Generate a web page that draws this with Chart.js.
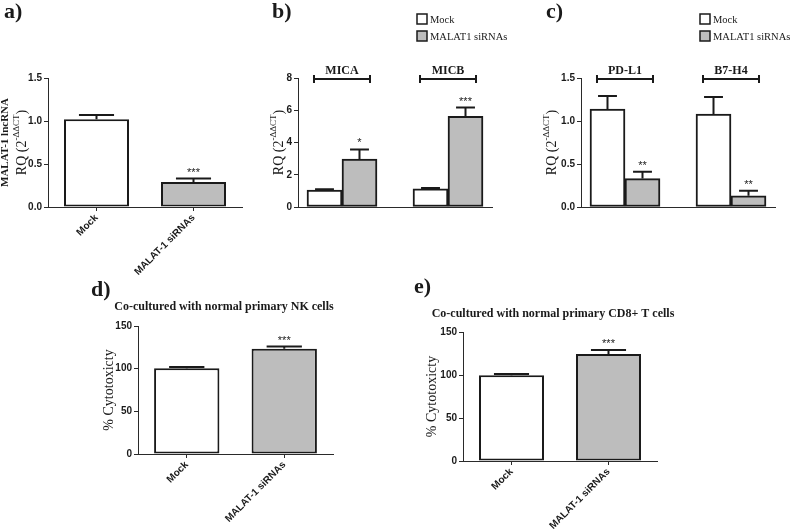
<!DOCTYPE html>
<html>
<head>
<meta charset="utf-8">
<script src="https://cdn.jsdelivr.net/npm/chart.js@4.4.0/dist/chart.umd.min.js"></script>
<style>
html, body { margin: 0; padding: 0; background: #fff; }
#wrap { position: relative; width: 791px; height: 531px; }
#wrap canvas { position: absolute; left: 0; top: 0; }
</style>
</head>
<body>
<div id="wrap">
  <canvas id="pa" width="791" height="531"></canvas>
  <canvas id="pb" width="791" height="531"></canvas>
  <canvas id="pc" width="791" height="531"></canvas>
  <canvas id="pd" width="791" height="531"></canvas>
  <canvas id="pe" width="791" height="531"></canvas>
</div>
<script>
// a) MALAT-1 knockdown
var aLabels = ['Mock', 'MALAT-1 siRNAs'];
var aValues = [1.02, 0.29];
var aErrors = [0.05, 0.04];
var aStars = ['', '***'];
var aTicks = [0, 0.5, 1.0, 1.5];

// b) MICA / MICB
var bGenes = ['MICA', 'MICB'];
var bMock = [1.05, 1.12];
var bMockErr = [0.05, 0.06];
var bSi = [2.97, 5.62];
var bSiErr = [0.6, 0.55];
var bStars = ['*', '***'];
var bTicks = [0, 2, 4, 6, 8];

// c) PD-L1 / B7-H4
var cGenes = ['PD-L1', 'B7-H4'];
var cMock = [1.14, 1.08];
var cMockErr = [0.15, 0.2];
var cSi = [0.33, 0.13];
var cSiErr = [0.08, 0.06];
var cStars = ['**', '**'];
var cTicks = [0, 0.5, 1.0, 1.5];

// d) NK cells
var dLabels = ['Mock', 'MALAT-1 siRNAs'];
var dValues = [100.4, 123.4];
var dErrors = [1.5, 2.5];
var dStars = ['', '***'];
var dTicks = [0, 50, 100, 150];

// e) CD8+ T cells
var eLabels = ['Mock', 'MALAT-1 siRNAs'];
var eValues = [99.8, 124.5];
var eErrors = [1.5, 4.5];
var eStars = ['', '***'];
var eTicks = [0, 50, 100, 150];

var seriesNames = ['Mock', 'MALAT1 siRNAs'];

var W = 791, H = 531;
var SANS = "'Liberation Sans', Arial, sans-serif";
var SERIF = "'Liberation Serif', 'Times New Roman', serif";
var GREY = '#bdbdbd';
var INK = '#1a1a1a';
var AXIS = '#2a2a2a';

var RQ = [{t: 'RQ (2', f: '14px ' + SERIF}, {t: '-\u0394\u0394CT', f: '9px ' + SERIF, sup: true}, {t: ')', f: '14px ' + SERIF}];

// extra drawing per panel (labels, titles, legend, brackets)
var decorCfg = {
  pa: { tag: 'a)', tagX: 4, tagY: 18,
        ytitle: [{x: 5, segs: [{t: 'MALAT-1 lncRNA', f: 'bold 11px ' + SERIF}]}, {x: 22, segs: RQ}] },
  pb: { tag: 'b)', tagX: 272, tagY: 18, legendX: 417, brackets: bGenes,
        ytitle: [{x: 279, segs: RQ}] },
  pc: { tag: 'c)', tagX: 546, tagY: 18, legendX: 700, brackets: cGenes,
        ytitle: [{x: 552, segs: RQ}] },
  pd: { tag: 'd)', tagX: 91, tagY: 296, title: 'Co-cultured with normal primary NK cells', titleX: 224, titleY: 310,
        ytitle: [{x: 109, segs: [{t: '% Cytotoxicty', f: '14px ' + SERIF}]}] },
  pe: { tag: 'e)', tagX: 414, tagY: 293, title: 'Co-cultured with normal primary CD8+ T cells', titleX: 553, titleY: 317,
        ytitle: [{x: 432, segs: [{t: '% Cytotoxicty', f: '14px ' + SERIF}]}] }
};

function drawVertical(ctx, cx, cy, segs) {
  ctx.save();
  ctx.translate(cx, cy);
  ctx.rotate(-Math.PI / 2);
  var widths = [], total = 0;
  segs.forEach(function (s) { ctx.font = s.f; var w = ctx.measureText(s.t).width; widths.push(w); total += w; });
  var x = -total / 2;
  ctx.textAlign = 'left';
  ctx.textBaseline = 'middle';
  ctx.fillStyle = INK;
  segs.forEach(function (s, i) {
    ctx.font = s.f;
    ctx.fillText(s.t, x, s.sup ? -5 : 0);
    x += widths[i];
  });
  ctx.restore();
}

var decor = {
  id: 'decor',
  afterDatasetsDraw: function (chart) {
    var ctx = chart.ctx, y = chart.scales.y;
    ctx.save();
    chart.data.datasets.forEach(function (ds, di) {
      var meta = chart.getDatasetMeta(di);
      meta.data.forEach(function (bar, i) {
        var v = ds.data[i];
        if (typeof v === 'object') v = v.y;
        var top = y.getPixelForValue(v + ds.errors[i]);
        var half = bar.width * 0.27;
        ctx.strokeStyle = INK;
        ctx.lineWidth = 2;
        ctx.beginPath();
        ctx.moveTo(bar.x, bar.y);
        ctx.lineTo(bar.x, top);
        ctx.moveTo(bar.x - half, top);
        ctx.lineTo(bar.x + half, top);
        ctx.stroke();
        if (ds.stars && ds.stars[i]) {
          ctx.fillStyle = INK;
          ctx.font = '11px ' + SANS;
          ctx.textAlign = 'center';
          ctx.textBaseline = 'alphabetic';
          ctx.fillText(ds.stars[i], bar.x, top - 3);
        }
      });
    });
    ctx.restore();
  },
  afterDraw: function (chart) {
    var cfg = decorCfg[chart.canvas.id];
    var ctx = chart.ctx, area = chart.chartArea;
    ctx.save();
    ctx.fillStyle = INK;
    // panel tag
    ctx.font = 'bold 22px ' + SERIF;
    ctx.textAlign = 'left';
    ctx.textBaseline = 'alphabetic';
    ctx.fillText(cfg.tag, cfg.tagX, cfg.tagY);
    // title
    if (cfg.title) {
      ctx.font = 'bold 12px ' + SERIF;
      ctx.textAlign = 'center';
      ctx.fillText(cfg.title, cfg.titleX, cfg.titleY);
    }
    // y axis title
    var cy = (area.top + area.bottom) / 2;
    cfg.ytitle.forEach(function (line) { drawVertical(ctx, line.x, cy, line.segs); });
    // brackets over groups
    if (cfg.brackets) {
      var x = chart.scales.x, by = area.top + 1;
      ctx.strokeStyle = INK;
      ctx.lineWidth = 2;
      cfg.brackets.forEach(function (name, i) {
        var cx = x.getPixelForValue(i);
        ctx.beginPath();
        ctx.moveTo(cx - 28, by); ctx.lineTo(cx + 28, by);
        ctx.moveTo(cx - 28, by - 4); ctx.lineTo(cx - 28, by + 4);
        ctx.moveTo(cx + 28, by - 4); ctx.lineTo(cx + 28, by + 4);
        ctx.stroke();
        ctx.font = 'bold 12px ' + SERIF;
        ctx.textAlign = 'center';
        ctx.fillText(name, cx, by - 5);
      });
    }
    // legend
    if (cfg.legendX) {
      chart.data.datasets.forEach(function (ds, i) {
        var ly = 14 + i * 17;
        ctx.fillStyle = ds.backgroundColor;
        ctx.fillRect(cfg.legendX, ly, 10, 10);
        ctx.strokeStyle = INK;
        ctx.lineWidth = 1.5;
        ctx.strokeRect(cfg.legendX, ly, 10, 10);
        ctx.fillStyle = INK;
        ctx.font = '10.5px ' + SERIF;
        ctx.textAlign = 'left';
        ctx.fillText(ds.label, cfg.legendX + 13, ly + 9);
      });
    }
    ctx.restore();
  }
};

function layoutFor(area) {
  return { padding: { left: area[0] - 40, top: area[1], right: W - area[2], bottom: H - area[3] - 80 } };
}

function yScale(ticks, dec) {
  return {
    min: ticks[0], max: ticks[ticks.length - 1],
    afterBuildTicks: function (s) { s.ticks = ticks.map(function (v) { return { value: v }; }); },
    ticks: {
      color: INK, padding: 2,
      font: { family: SANS, size: 10, weight: 'bold' },
      callback: function (v) { return dec ? v.toFixed(dec) : String(v); }
    },
    grid: { drawOnChartArea: false, drawTicks: true, tickLength: 4, color: AXIS, lineWidth: 1 },
    border: { color: AXIS, width: 1 },
    afterFit: function (s) { s.width = 40; }
  };
}

function xCategory() {
  return {
    ticks: {
      color: INK, padding: 1, autoSkip: false, minRotation: 45, maxRotation: 45,
      font: { family: SANS, size: 10, weight: 'bold' }
    },
    grid: { offset: false, drawOnChartArea: false, drawTicks: true, tickLength: 4, color: AXIS },
    border: { color: AXIS, width: 1 },
    afterFit: function (s) { s.height = 80; }
  };
}

function xGroups() {
  return {
    type: 'linear', min: -0.415, max: 1.415, offset: false, bounds: 'data',
    ticks: { display: false },
    grid: { offset: false, drawOnChartArea: false, drawTicks: false },
    border: { color: AXIS, width: 1 },
    afterFit: function (s) { s.height = 80; }
  };
}

function singlePanel(id, area, labels, values, errors, stars, ticks, dec) {
  new Chart(document.getElementById(id), {
    type: 'bar',
    data: {
      labels: labels,
      datasets: [{
        data: values,
        errors: errors,
        stars: stars,
        backgroundColor: ['#ffffff', GREY],
        borderColor: INK,
        borderWidth: 2,
        borderSkipped: false,
        categoryPercentage: 1,
        barPercentage: 0.67
      }]
    },
    options: {
      responsive: false, animation: false,
      layout: layoutFor(area),
      plugins: { legend: { display: false }, tooltip: { enabled: false } },
      scales: { x: xCategory(), y: yScale(ticks, dec) }
    },
    plugins: [decor]
  });
}

function toPoints(vals) {
  return vals.map(function (v, i) { return { x: i, y: v }; });
}

function groupPanel(id, area, mock, mockErr, si, siErr, stars, ticks, dec) {
  new Chart(document.getElementById(id), {
    type: 'bar',
    data: {
      datasets: [
        { label: seriesNames[0], data: toPoints(mock), errors: mockErr, stars: null,
          backgroundColor: '#ffffff', borderColor: INK, borderWidth: 2, borderSkipped: false, barThickness: 35 },
        { label: seriesNames[1], data: toPoints(si), errors: siErr, stars: stars,
          backgroundColor: GREY, borderColor: INK, borderWidth: 2, borderSkipped: false, barThickness: 35 }
      ]
    },
    options: {
      responsive: false, animation: false,
      layout: layoutFor(area),
      plugins: { legend: { display: false }, tooltip: { enabled: false } },
      scales: { x: xGroups(), y: yScale(ticks, dec) }
    },
    plugins: [decor]
  });
}

singlePanel('pa', [48, 78, 242, 207], aLabels, aValues, aErrors, aStars, aTicks, 1);
groupPanel('pb', [298, 78, 492, 207], bMock, bMockErr, bSi, bSiErr, bStars, bTicks, 0);
groupPanel('pc', [581, 78, 775, 207], cMock, cMockErr, cSi, cSiErr, cStars, cTicks, 1);
singlePanel('pd', [138, 326, 333, 454], dLabels, dValues, dErrors, dStars, dTicks, 0);
singlePanel('pe', [463, 332, 657, 461], eLabels, eValues, eErrors, eStars, eTicks, 0);
</script>
</body>
</html>
